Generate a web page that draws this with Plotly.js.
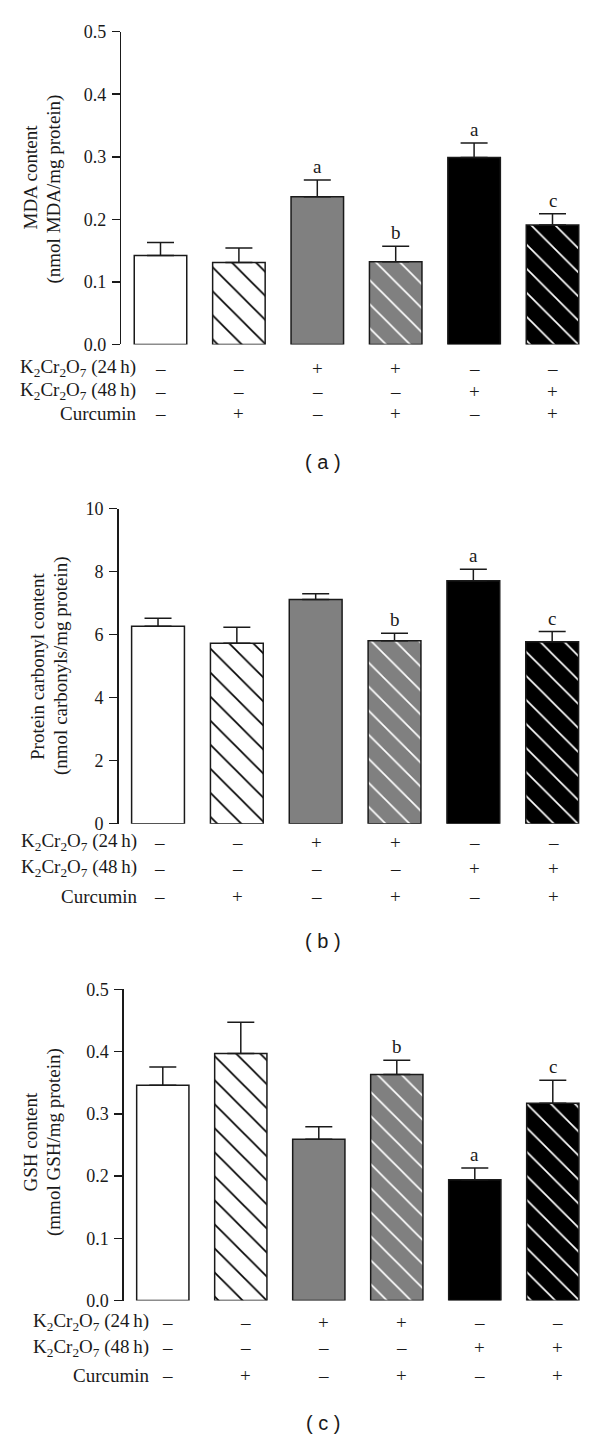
<!DOCTYPE html>
<html><head><meta charset="utf-8">
<script src="https://cdn.plot.ly/plotly-3.0.1.min.js"></script>
<style>body{margin:0;background:#fff}#chart{width:600px;height:1438px}</style>
</head><body><div id="chart"></div>
<script>
// ---- data ----
const categories = ["Control", "Curcumin", "K2Cr2O7 24 h", "K2Cr2O7 24 h + Curcumin", "K2Cr2O7 48 h", "K2Cr2O7 48 h + Curcumin"];
const mdaMean = [0.142, 0.131, 0.236, 0.132, 0.299, 0.191];
const mdaErr  = [0.021, 0.023, 0.027, 0.025, 0.023, 0.018];
const mdaSig  = ["", "", "a", "b", "a", "c"];
const carbonylMean = [6.27, 5.73, 7.12, 5.81, 7.71, 5.78];
const carbonylErr  = [0.25, 0.51, 0.18, 0.24, 0.37, 0.32];
const carbonylSig  = ["", "", "", "b", "a", "c"];
const gshMean = [0.346, 0.397, 0.259, 0.363, 0.194, 0.317];
const gshErr  = [0.029, 0.050, 0.020, 0.023, 0.019, 0.037];
const gshSig  = ["", "", "", "b", "a", "c"];
const rowLabels = ["K<sub>2</sub>Cr<sub>2</sub>O<sub>7</sub> (24\u2009h)", "K<sub>2</sub>Cr<sub>2</sub>O<sub>7</sub> (48\u2009h)", "Curcumin"];
const k24Signs = ["\u2013", "\u2013", "+", "+", "\u2013", "\u2013"];
const k48Signs = ["\u2013", "\u2013", "\u2013", "\u2013", "+", "+"];
const curSigns = ["\u2013", "+", "\u2013", "+", "\u2013", "+"];
const panelTags = ["( a )", "( b )", "( c )"];

// ---- styling ----
const W = 600, H = 1438;
const px = x => x / W, py = y => 1 - y / H;
const SERIF = "Liberation Serif, Times New Roman, serif";
const INK = "#1a1a1a";
const fillColors = ["#ffffff", "#ffffff", "#808080", "#808080", "#000000", "#000000"];
const patShapes = ["", "\\", "", "\\", "", "\\"];
const patFg = ["#000000", "#000000", "#000000", "#ffffff", "#000000", "#ffffff"];

const panels = [
  {mean: mdaMean, err: mdaErr, sig: mdaSig, xd: [121.3, 591.7], yd: [31.7, 344.4], range: [0, 0.5], dtick: 0.1, fmt: ".1f",
   titles: [["MDA content", 30, 177.5], ["(nmol MDA/mg protein)", 53.5, 189]],
   rows: [368.3, 391, 414], labelX: 138.3, shift: 0, tagY: 462},
  {mean: carbonylMean, err: carbonylErr, sig: carbonylSig, xd: [118.6, 591.6], yd: [508.7, 823.7], range: [0, 10], dtick: 2, fmt: "d",
   titles: [["Protein carbonyl content", 37.5, 666.5], ["(nmol carbonyls/mg protein)", 61, 666]],
   rows: [842.5, 868.3, 896.7], labelX: 138.5, shift: 1, tagY: 941},
  {mean: gshMean, err: gshErr, sig: gshSig, xd: [123.8, 591.8], yd: [989.3, 1300.5], range: [0, 0.5], dtick: 0.1, fmt: ".1f",
   titles: [["GSH content", 30, 1142.5], ["(mmol GSH/mg protein)", 53.5, 1142.5]],
   rows: [1322.3, 1347.8, 1375], labelX: 150.5, shift: 5, tagY: 1423}
];

const data = [];
const annotations = [];
const layout = {
  width: W, height: H, margin: {l: 0, r: 0, t: 0, b: 0}, barmode: "overlay",
  showlegend: false, paper_bgcolor: "#fff", plot_bgcolor: "#fff",
  font: {family: SERIF, color: INK}
};

panels.forEach((p, i) => {
  const n = i === 0 ? "" : String(i + 1);
  const xa = "x" + n, ya = "y" + n;
  categories.forEach((c, k) => {
    const marker = {color: fillColors[k], line: {color: INK, width: 1.5}};
    if (patShapes[k]) marker.pattern = {shape: patShapes[k], fgcolor: patFg[k], bgcolor: fillColors[k],
      fgopacity: 1, size: 17, solidity: 0.1, fillmode: "overlay"};
    data.push({
      type: "bar", x: [c], y: [p.mean[k]], xaxis: xa, yaxis: ya, width: 0.67, marker: marker,
      error_y: {type: "data", symmetric: false, array: [p.err[k]], arrayminus: [0],
                color: INK, thickness: 1.5, width: 13.5},
      hoverinfo: "skip"
    });
  });
  layout["xaxis" + n] = {
    domain: [px(p.xd[0]), px(p.xd[1])], anchor: ya, range: [-0.5, 5.5], type: "category",
    categoryorder: "array", categoryarray: categories,
    showline: false, showticklabels: false, ticks: "", showgrid: false, zeroline: false, fixedrange: true
  };
  layout["yaxis" + n] = {
    domain: [py(p.yd[1]), py(p.yd[0])], anchor: xa, range: p.range, dtick: p.dtick, tick0: 0, tickformat: p.fmt,
    showline: true, linecolor: INK, linewidth: 1.5, ticks: "outside", ticklen: 8, tickwidth: 1.5, tickcolor: INK,
    showgrid: false, zeroline: false, tickfont: {family: SERIF, size: 18, color: INK}, ticklabelstandoff: 2, fixedrange: true
  };
  // y titles
  p.titles.forEach(t => annotations.push({
    xref: "paper", yref: "paper", x: px(t[1]), y: py(t[2]), text: t[0], textangle: -90,
    showarrow: false, xanchor: "center", yanchor: "middle", font: {family: SERIF, size: 19, color: INK}
  }));
  // significance letters
  p.sig.forEach((s, k) => {
    if (!s) return;
    annotations.push({xref: xa, yref: ya, x: categories[k], y: p.mean[k] + p.err[k], text: s,
      showarrow: false, xanchor: "center", yanchor: "bottom", yshift: 1, font: {family: SERIF, size: 19, color: INK}});
  });
  // treatment table
  const signRows = [k24Signs, k48Signs, curSigns];
  rowLabels.forEach((lab, r) => {
    annotations.push({xref: "paper", yref: "paper", x: px(p.labelX), y: py(p.rows[r]), text: lab,
      showarrow: false, xanchor: "right", yanchor: "middle", font: {family: SERIF, size: 19, color: INK}});
    signRows[r].forEach((s, k) => annotations.push({xref: xa, yref: "paper", x: categories[k], y: py(p.rows[r]),
      text: s, xshift: p.shift, showarrow: false, xanchor: "center", yanchor: "middle",
      font: {family: SERIF, size: 19, color: INK}}));
  });
  annotations.push({xref: "paper", yref: "paper", x: px(323), y: py(p.tagY), text: panelTags[i],
    showarrow: false, xanchor: "center", yanchor: "middle", font: {family: "Liberation Sans, Arial, sans-serif", size: 20, color: INK}});
});
layout.annotations = annotations;

Plotly.newPlot("chart", data, layout, {staticPlot: true, displayModeBar: false});
</script>
</body></html>
